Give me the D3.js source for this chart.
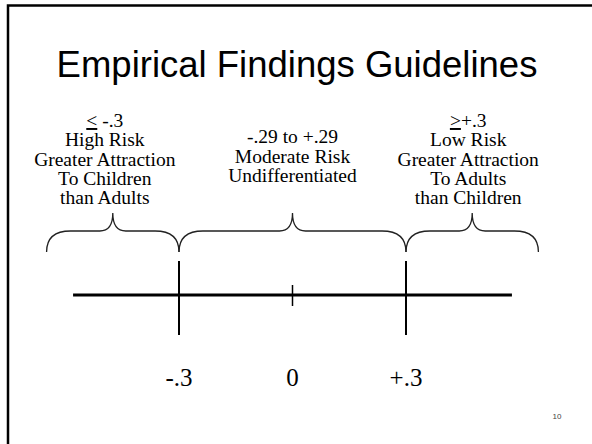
<!DOCTYPE html>
<html><head><meta charset="utf-8">
<script src="https://cdn.jsdelivr.net/npm/d3@7"></script>
<style>html,body{margin:0;padding:0;background:#fff;}svg{display:block;}</style>
</head><body>
<svg id="c" width="592" height="444"></svg>
<script>
const title = "Empirical Findings Guidelines";
const tickValues = [-0.3, 0, 0.3];
const tickLabels = ["-.3", "0", "+.3"];
const majorTicks = [-0.3, 0.3];
const minorTicks = [0];
const axisExtent = [-0.58, 0.58];
const braceSpans = [[-0.65, -0.3], [-0.3, 0.3], [0.3, 0.65]];
const leftLines = ["< -.3", "High Risk", "Greater Attraction", "To Children", "than Adults"];
const midLines = ["-.29 to +.29", "Moderate Risk", "Undifferentiated"];
const rightLines = [">+.3", "Low Risk", "Greater Attraction", "To Adults", "than Children"];
const pageNumber = "10";

const svg = d3.select("#c");
const x = d3.scaleLinear().domain([-0.3, 0.3]).range([179, 406]);

// slide border (left + top)
svg.append("path").attr("d", "M8,444 L8,5.5 L592,5.5")
  .attr("fill", "none").attr("stroke", "#000").attr("stroke-width", 2.5);

svg.append("text").attr("x", 297).attr("y", 77).attr("text-anchor", "middle")
  .attr("font-family", "Liberation Sans, Arial, sans-serif").attr("font-size", 36.5)
  .attr("fill", "#000").text(title);

const serif = "Liberation Serif, Times New Roman, serif";
function block(lines, cx, y0, lh) {
  const t = svg.append("text").attr("font-family", serif).attr("font-size", 19.5)
    .attr("text-anchor", "middle").attr("fill", "#000");
  lines.forEach((ln, i) => {
    const ts = t.append("tspan").attr("x", cx).attr("y", y0 + i * lh);
    if (i === 0 && (ln[0] === "<" || ln[0] === ">")) {
      ts.append("tspan").style("text-decoration", "underline").text(ln[0]);
      ts.append("tspan").text(ln.slice(1));
    } else ts.text(ln);
  });
}
const mids = braceSpans.map(s => x((s[0] + s[1]) / 2));
block(leftLines, mids[0] - 8, 127, 19.25);
block(midLines, mids[1], 143, 19.5);
block(rightLines, mids[2] - 4, 127, 19.25);

// braces
const yE = 252, yH = 231, yT = 213, r = 24, r2 = 13;
svg.selectAll("path.brace").data(braceSpans).join("path").attr("class", "brace")
  .attr("fill", "none").attr("stroke", "#222").attr("stroke-width", 1.3)
  .attr("d", s => {
    const x0 = x(s[0]), x1 = x(s[1]), xm = (x0 + x1) / 2;
    return `M${x0},${yE} Q${x0},${yH} ${x0 + r},${yH} L${xm - r2},${yH} Q${xm},${yH} ${xm},${yT}` +
      ` Q${xm},${yH} ${xm + r2},${yH} L${x1 - r},${yH} Q${x1},${yH} ${x1},${yE}`;
  });

// axis line
const yA = 295;
svg.append("line").attr("x1", x(axisExtent[0])).attr("x2", x(axisExtent[1]))
  .attr("y1", yA).attr("y2", yA).attr("stroke", "#000").attr("stroke-width", 3);
svg.selectAll("line.major").data(majorTicks).join("line").attr("class", "major")
  .attr("x1", d => x(d)).attr("x2", d => x(d)).attr("y1", 261).attr("y2", 335)
  .attr("stroke", "#000").attr("stroke-width", 2);
svg.selectAll("line.minor").data(minorTicks).join("line").attr("class", "minor")
  .attr("x1", d => x(d)).attr("x2", d => x(d)).attr("y1", 285).attr("y2", 306)
  .attr("stroke", "#000").attr("stroke-width", 1.5);

svg.selectAll("text.tl").data(tickValues).join("text").attr("class", "tl")
  .attr("x", d => x(d)).attr("y", 386).attr("text-anchor", "middle")
  .attr("font-family", serif).attr("font-size", 25).attr("fill", "#000")
  .text((d, i) => tickLabels[i]);

svg.append("text").attr("x", 557).attr("y", 419).attr("text-anchor", "middle")
  .attr("font-family", "Liberation Sans, Arial, sans-serif").attr("font-size", 8)
  .attr("fill", "#444").text(pageNumber);
</script>
</body></html>
